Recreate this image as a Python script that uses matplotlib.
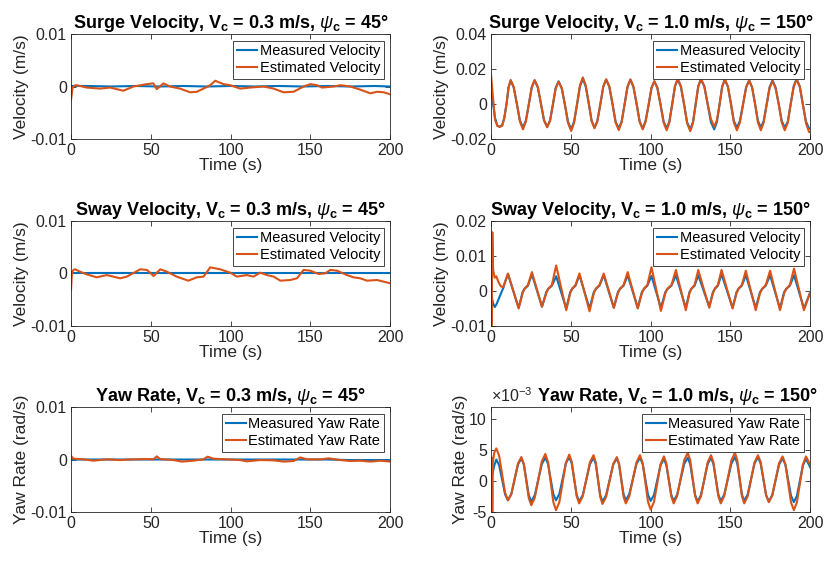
import numpy as np
import matplotlib.pyplot as plt

plt.rcParams['font.family'] = ['Liberation Sans', 'DejaVu Sans']
plt.rcParams['mathtext.fontset'] = 'custom'
plt.rcParams['mathtext.rm'] = 'Liberation Sans'
plt.rcParams['mathtext.it'] = 'Liberation Sans:italic'
plt.rcParams['mathtext.bf'] = 'Liberation Sans:bold'
plt.rcParams['axes.unicode_minus'] = False

BLUE = '#0072BD'
ORANGE = '#D95319'
GREY = '#262626'

# ---------------- left column: Vc = 0.3 m/s, psi = 45 deg ----------------
# surge
t_su_l = [0, 1, 2.5, 3.5, 9.8, 18.2, 24.5, 32.8, 39.1, 47.4, 51.6, 53.7, 57.9, 62.0,
          68.3, 74.6, 78.8, 83.0, 87.2, 90.3, 95.5, 99.7, 106, 112.2, 120.6, 126.9,
          133.1, 139.4, 145.7, 149.9, 154.1, 157.2, 164.5, 168.7, 175, 181.2, 187.5,
          191.7, 195.9, 200]
su_est_l = [-0.0025, -0.0002, 0.0002, 0.00025, -0.0002, -0.0004, -0.0002, -0.0008, 0.0,
            0.00045, 0.0006, -0.0005, 0.0006, 0.0, -0.0004, -0.0011, -0.001, -0.0004,
            0.00025, 0.0011, 0.00045, 0.00025, -0.0004, -0.0002, 0.0, -0.0004, -0.0011,
            -0.001, 0.0, 0.00045, 0.00025, -0.0002, 0.0, 0.00025, 0.0, -0.0006, -0.0013,
            -0.001, -0.0011, -0.0015]
t_meas_l = [0, 10, 25, 40, 55, 70, 85, 100, 115, 130, 145, 160, 175, 190, 200]
su_meas_l = [0.0001, 0.0001, 0.0, 0.0001, 0.0, 0.0001, 0.0, 0.0001, 0.0, 0.0001, 0.0,
             0.0001, 0.0, 0.0001, 0.0]

# sway
t_sw_l = [0, 0.6, 1.5, 2.5, 5.6, 9.8, 16.1, 22.4, 30.8, 34.9, 43.4, 47.6, 51.7, 55.9, 60,
          66.2, 73.5, 78.7, 83, 87.2, 93.4, 99.7, 103.9, 110.1, 114.3, 118.5, 122.7,
          126.9, 131.1, 137.3, 141.5, 145.7, 149.9, 155.1, 159.3, 162.4, 166.6, 172.8,
          177, 181.2, 185.4, 191.7, 195.9, 200]
sw_est_l = [-0.0031, 0.0003, 0.00067, 0.0008, 0.00035, -0.00016, -0.00073, -0.0003,
            -0.00092, -0.0006, 0.0008, 0.00067, -0.00048, 0.0008, 0.00035, -0.0006,
            -0.00137, -0.00073, -0.0006, 0.00117, 0.0008, 0.00016, -0.0006, -0.0003,
            -0.0006, 0.00016, -0.0003, -0.0006, -0.00137, -0.00124, -0.00092, 0.00067,
            0.00054, -0.0001, 0.00003, 0.00067, 0.00054, -0.0003, -0.00073, -0.00092,
            -0.00137, -0.00124, -0.00156, -0.00187]
sw_meas_l = [0.0, 0.0, 0.0, 0.0, 0.0, 0.0, 0.0, 0.0, 0.0, 0.0, 0.0, 0.0, 0.0, 0.0, 0.0]

# yaw
t_ya_l = [0, 1.5, 7.7, 14, 22.4, 30.8, 39.1, 47.4, 51.6, 53.7, 55.8, 64.1, 69.4, 76.7, 83,
          85.5, 89.2, 97.6, 106, 110.1, 118.5, 126.9, 133.1, 139.4, 143.6, 147.8, 156.2,
          161.4, 168.7, 175, 181.2, 187.5, 193.8, 200]
ya_est_l = [0.00067, 0.00016, 0.00003, -0.00022, 0.00003, -0.0001, 0.00003, 0.0001,
            0.00003, 0.0006, 0.0001, -0.0001, -0.0004, -0.00022, 0.00003, 0.00054,
            0.00016, 0.00003, -0.0001, -0.00035, -0.0001, -0.00016, -0.0004, -0.00029,
            0.0004, 0.00003, 0.00003, 0.00022, -0.0001, -0.00029, -0.00022, -0.0004,
            -0.00022, -0.0004]
ya_meas_l = [0.0, 0.0, 0.0, 0.0, 0.0, 0.0, 0.0, 0.0, 0.0, 0.0, 0.0, 0.0, -0.0001, -0.0001,
             -0.0001]

# ---------------- right column: Vc = 1.0 m/s, psi = 150 deg ----------------
t_su_r = [0, 1, 2.5, 4, 5.4, 7,
          8.3, 9.7, 11, 12.3, 14.2, 16.2, 18.1, 20,
          21.8, 23.7, 25.5, 27.3, 29.3, 31.3, 33.2, 35.2,
          37, 38.8, 40.5, 42.3, 44.3, 46.3, 48.2, 50.2,
          52, 53.9, 55.7, 57.5, 59.3, 61.2, 63, 64.8,
          66.6, 68.5, 70.3, 72.1, 74.1, 76.1, 78, 80,
          81.8, 83.7, 85.5, 87.3, 89.2, 91.2, 93.1, 95,
          96.8, 98.7, 100.5, 102.3, 104.2, 106.2, 108.1, 110,
          111.7, 113.5, 115.2, 116.9, 118.9, 120.9, 122.8, 124.8,
          126.5, 128.2, 129.8, 131.5, 133.6, 135.7, 137.7, 139.8,
          141.5, 143.2, 144.8, 146.5, 148.4, 150.3, 152.1, 154,
          155.9, 157.9, 159.8, 161.7, 163.5, 165.4, 167.2, 169,
          170.8, 172.7, 174.5, 176.3, 178.2, 180.2, 182.1, 184,
          185.9, 187.7, 189.6, 191.4,
          193.4, 195.3, 197.3, 199.2, 200]
su_meas_r = [0.007, 0.002, -0.008, -0.0125, -0.013, -0.012,
             -0.008, 0.0, 0.0095, 0.0135, 0.0095, 0.0, -0.0095, -0.0135,
             -0.0095, 0.0, 0.0095, 0.0135, 0.0095, 0.0, -0.0093, -0.013,
             -0.0093, 0.0, 0.0092, 0.013, 0.009, -0.0005, -0.010, -0.0145,
             -0.010, 0.0, 0.010, 0.0145, 0.010, 0.0005, -0.0095, -0.0135,
             -0.0097, 0.0, 0.0099, 0.014, 0.0099, 0.0, -0.010, -0.014,
             -0.010, 0.0, 0.0098, 0.0138, 0.0098, 0.0, -0.010, -0.014,
             -0.0097, -0.0005, 0.0092, 0.013, 0.0092, -0.0005, -0.010, -0.014,
             -0.010, 0.0, 0.010, 0.014, 0.010, 0.0, -0.0103, -0.0145,
             -0.0102, 0.0, 0.010, 0.014, 0.010, 0.0, -0.0103, -0.0145,
             -0.0102, 0.0, 0.010, 0.014, 0.0098, 0.0, -0.0096, -0.0135,
             -0.0096, 0.0, 0.0096, 0.0135, 0.0096, 0.0, -0.0096, -0.0135,
             -0.0096, 0.0, 0.0096, 0.0135, 0.0096, 0.0, -0.0096, -0.0135,
             -0.010, 0.0, 0.0102, 0.0145,
             0.010, 0.0, -0.010, -0.014, -0.014]
su_est_r = [0.0166, 0.006, -0.009, -0.0125, -0.013, -0.0125,
            -0.008, 0.0, 0.0097, 0.0137, 0.0097, 0.0, -0.010, -0.0145,
            -0.010, 0.0, 0.0097, 0.0137, 0.0097, 0.0, -0.0094, -0.0133,
            -0.0094, 0.0, 0.009, 0.0127, 0.009, -0.0005, -0.0108, -0.0154,
            -0.0108, 0.0, 0.0107, 0.0152, 0.0107, 0.0005, -0.0098, -0.0139,
            -0.0098, 0.0, 0.010, 0.0141, 0.010, 0.0, -0.0105, -0.0149,
            -0.0105, 0.0, 0.010, 0.0141, 0.010, 0.0, -0.0102, -0.0145,
            -0.0102, -0.0005, 0.0092, 0.013, 0.0092, -0.0005, -0.0106, -0.015,
            -0.0106, 0.0, 0.0102, 0.0145, 0.0102, 0.0, -0.011, -0.0155,
            -0.011, 0.0, 0.0102, 0.0145, 0.0102, 0.0, -0.0085, -0.013,
            -0.0092, 0.0, 0.0099, 0.014, 0.0099, 0.0, -0.0106, -0.015,
            -0.0106, 0.0, 0.0095, 0.0135, 0.0095, 0.0, -0.0106, -0.015,
            -0.0106, 0.0, 0.0092, 0.013, 0.0092, 0.0, -0.0106, -0.015,
            -0.0106, 0.0, 0.0099, 0.014,
            0.0099, 0.0, -0.011, -0.016, -0.016]

t_sw_r = [0, 0.4, 0.8, 1.3, 2.3, 3.3, 4.6, 6.2, 7.6, 9.1, 10.6,
          17.3, 19.8, 21.0, 23.1, 25.6,
          31.9, 34.6, 35.9, 38.1, 40.8,
          47.1, 49.6, 50.8, 52.9, 55.4,
          61.7, 64.4, 65.7, 67.9, 70.6,
          76.9, 79.5, 80.8, 83.0, 85.6,
          91.9, 94.5, 95.8, 97.9, 100.5,
          106.4, 109.2, 110.6, 113.0, 115.8,
          122.0, 124.3, 125.5, 127.5, 129.8,
          136.7, 139.0, 140.2, 142.1, 144.4,
          151.3, 153.8, 155.0, 157.1, 159.6,
          165.8, 168.5, 169.9, 172.1, 174.8,
          181.0, 183.6, 185.0, 187.2, 189.8,
          196.0, 200]
sw_meas_r = [-0.0012, -0.0018, -0.0025, -0.0035, -0.0046, -0.0039, -0.0025, -0.0007,
             0.0008, 0.003, 0.0048,
             -0.0048, -0.0003, 0.0006, 0.0015, 0.0048,
             -0.0045, -0.0003, 0.0006, 0.0015, 0.0042,
             -0.005, -0.0003, 0.0006, 0.0015, 0.0045,
             -0.005, -0.0003, 0.0006, 0.0015, 0.0045,
             -0.0048, -0.0003, 0.0006, 0.0015, 0.0045,
             -0.0048, -0.0003, 0.0006, 0.0015, 0.0043,
             -0.0048, -0.0003, 0.0006, 0.0015, 0.0045,
             -0.0048, -0.0003, 0.0006, 0.0015, 0.0045,
             -0.0045, -0.0003, 0.0006, 0.0015, 0.0048,
             -0.0048, -0.0003, 0.0006, 0.0015, 0.0045,
             -0.0048, -0.0003, 0.0006, 0.0015, 0.0045,
             -0.005, -0.0003, 0.0006, 0.0015, 0.0045,
             -0.005, -0.0003]
sw_est_r = [-0.002, -0.0098, 0.0168, 0.006, 0.0038, 0.0042, 0.0026, 0.0013, 0.0011,
            0.003, 0.005,
            -0.005, -0.0006, 0.0007, 0.0017, 0.0054,
            -0.0045, -0.0006, 0.0007, 0.0017, 0.0073,
            -0.0055, -0.0006, 0.0007, 0.0017, 0.005,
            -0.0058, -0.0006, 0.0007, 0.0017, 0.005,
            -0.0048, -0.0006, 0.0007, 0.0017, 0.0054,
            -0.005, -0.0006, 0.0007, 0.0017, 0.0068,
            -0.0057, -0.0006, 0.0007, 0.0017, 0.006,
            -0.0055, -0.0006, 0.0007, 0.0017, 0.006,
            -0.0048, -0.0006, 0.0007, 0.0017, 0.006,
            -0.005, -0.0006, 0.0007, 0.0017, 0.0058,
            -0.0055, -0.0006, 0.0007, 0.0017, 0.0058,
            -0.0055, -0.0006, 0.0007, 0.0017, 0.0064,
            -0.0055, -0.0003]

# yaw rate, in units of 1e-3 rad/s
t_ya_r = [0, 0.5, 0.8, 1.1, 2.0, 3.3,
          5.1, 6.95, 8.8, 10.6, 12.7, 14.8, 16.9, 19.0,
          20.55, 22.1, 23.65, 25.2, 27.4, 29.6, 31.8, 34.0,
          35.7, 37.35, 39.0, 40.7, 42.8, 44.85, 46.9, 49.0,
          50.55, 52.1, 53.65, 55.2, 57.45, 59.7, 61.95, 64.2,
          65.6, 67.0, 68.4, 69.8, 72.05, 74.3, 76.55, 78.8,
          80.2, 81.6, 83.0, 84.4, 86.6, 88.85, 91.1, 93.3,
          95.0, 96.65, 98.3, 100.0, 102.1, 104.15, 106.2, 108.3,
          109.8, 111.35, 112.9, 114.4, 116.6, 118.8, 121.0, 123.2,
          124.75, 126.3, 127.85, 129.4, 131.5, 133.6, 135.7, 137.8,
          139.3, 140.85, 142.4, 143.9, 146.1, 148.35, 150.6, 152.8,
          154.25, 155.7, 157.15, 158.6, 160.75, 162.9, 165.05, 167.2,
          168.9, 170.6, 172.3, 174.0, 176.15, 178.3, 180.45, 182.6,
          184.4, 186.15, 187.9, 189.7, 191.6, 193.5, 195.4, 197.3,
          200]
ya_meas_r = [0.0, 0.6, 1.0, 1.4, 2.5, 3.5,
             2.54, 0.2, -2.14, -3.1, -2.11, 0.3, 2.71, 3.7,
             2.68, 0.2, -2.28, -3.3, -2.26, 0.25, 2.76, 3.8,
             2.79, 0.35, -2.09, -3.1, -2.08, 0.4, 2.88, 3.9,
             2.85, 0.3, -2.25, -3.3, -2.26, 0.25, 2.76, 3.8,
             2.76, 0.25, -2.26, -3.3, -2.28, 0.2, 2.68, 3.7,
             2.71, 0.3, -2.11, -3.1, -2.09, 0.35, 2.79, 3.8,
             2.78, 0.3, -2.18, -3.2, -2.21, 0.2, 2.61, 3.6,
             2.61, 0.2, -2.21, -3.2, -2.18, 0.3, 2.78, 3.8,
             2.76, 0.25, -2.26, -3.3, -2.26, 0.25, 2.76, 3.8,
             2.78, 0.3, -2.18, -3.2, -2.16, 0.35, 2.86, 3.9,
             2.86, 0.35, -2.16, -3.2, -2.16, 0.35, 2.86, 3.9,
             2.85, 0.3, -2.25, -3.3, -2.28, 0.2, 2.68, 3.7,
             2.66, 0.15, -2.36, -3.4, -2.38, 0.1, 2.58, 3.6,
             2.2]
ya_est_r = [3.2, 3.8, -5.0, 3.0, 4.6, 5.3,
            4.07, 1.1, -1.87, -3.1, -2.08, 0.4, 2.88, 3.9,
            2.76, 0.0, -2.76, -3.9, -2.69, 0.25, 3.19, 4.4,
            3.07, -0.15, -3.37, -4.7, -3.39, -0.2, 2.99, 4.3,
            3.15, 0.35, -2.45, -3.6, -2.46, 0.3, 3.06, 4.2,
            3.05, 0.25, -2.55, -3.7, -2.59, 0.1, 2.79, 3.9,
            2.8, 0.15, -2.5, -3.6, -2.46, 0.3, 3.06, 4.2,
            2.92, -0.2, -3.32, -4.6, -3.34, -0.3, 2.74, 4.0,
            2.89, 0.2, -2.49, -3.6, -2.4, 0.5, 3.4, 4.6,
            3.4, 0.5, -2.4, -3.6, -2.46, 0.3, 3.06, 4.2,
            3.06, 0.3, -2.46, -3.6, -2.4, 0.5, 3.4, 4.6,
            3.4, 0.5, -2.4, -3.6, -2.46, 0.3, 3.06, 4.2,
            3.09, 0.4, -2.29, -3.4, -2.32, 0.3, 2.92, 4.0,
            2.73, -0.35, -3.43, -4.7, -3.43, -0.35, 2.73, 4.0,
            2.6]

titles = [r'Surge Velocity, V$_{\mathbf{c}}$ = 0.3 m/s, $\psi_{\mathbf{c}}$ = 45°',
          r'Surge Velocity, V$_{\mathbf{c}}$ = 1.0 m/s, $\psi_{\mathbf{c}}$ = 150°',
          r'Sway Velocity, V$_{\mathbf{c}}$ = 0.3 m/s, $\psi_{\mathbf{c}}$ = 45°',
          r'Sway Velocity, V$_{\mathbf{c}}$ = 1.0 m/s, $\psi_{\mathbf{c}}$ = 150°',
          r'Yaw Rate, V$_{\mathbf{c}}$ = 0.3 m/s, $\psi_{\mathbf{c}}$ = 45°',
          r'Yaw Rate, V$_{\mathbf{c}}$ = 1.0 m/s, $\psi_{\mathbf{c}}$ = 150°']

fig = plt.figure(figsize=(8.25, 5.61), dpi=100)
lefts = [0.0861, 0.5952]
bottoms = [0.7522, 0.4189, 0.0873]
W, H = 0.387, 0.1872

panels = [
    (t_meas_l, su_meas_l, t_su_l, su_est_l, 'Velocity (m/s)', 'Velocity'),
    (t_su_r, su_meas_r, t_su_r, su_est_r, 'Velocity (m/s)', 'Velocity'),
    (t_meas_l, sw_meas_l, t_sw_l, sw_est_l, 'Velocity (m/s)', 'Velocity'),
    (t_sw_r, sw_meas_r, t_sw_r, sw_est_r, 'Velocity (m/s)', 'Velocity'),
    (t_meas_l, ya_meas_l, t_ya_l, ya_est_l, 'Yaw Rate (rad/s)', 'Yaw Rate'),
    (t_ya_r, ya_meas_r, t_ya_r, ya_est_r, 'Yaw Rate (rad/s)', 'Yaw Rate'),
]
ylims = [(-0.01, 0.01), (-0.02, 0.04), (-0.01, 0.01), (-0.01, 0.02), (-0.01, 0.01), (-5, 12)]
yticks = [[-0.01, 0, 0.01], [-0.02, 0, 0.02, 0.04], [-0.01, 0, 0.01],
          [-0.01, 0, 0.01, 0.02], [-0.01, 0, 0.01], [-5, 0, 5, 10]]

for i, (tm, ym, te, ye, ylab, name) in enumerate(panels):
    row, col = i // 2, i % 2
    ax = fig.add_axes([lefts[col], bottoms[row], W, H])
    ax.plot(tm, ym, color=BLUE, lw=1.5, solid_joinstyle='round', label='Measured ' + name)
    ax.plot(te, ye, color=ORANGE, lw=1.5, solid_joinstyle='round', label='Estimated ' + name)
    ax.set_xlim(0, 200)
    ax.set_ylim(*ylims[i])
    ax.set_xticks([0, 50, 100, 150, 200])
    ax.set_yticks(yticks[i])
    ax.set_yticklabels(['%g' % v for v in yticks[i]])
    ax.tick_params(direction='in', top=True, right=True, length=3.5, width=0.6,
                   labelsize=11.5, colors=GREY, pad=3)
    for s in ax.spines.values():
        s.set_color(GREY)
        s.set_linewidth(0.6)
    ax.set_xlabel('Time (s)', fontsize=12.5, color=GREY, labelpad=0)
    ax.set_ylabel(ylab, fontsize=12.5, color=GREY, labelpad=1)
    if i == 5:
        ax.set_title(titles[i], fontsize=13, fontweight='bold', x=0.585, pad=4)
        ax.text(0.0, 1.02, r'$\times$10$^{-3}$', transform=ax.transAxes,
                ha='left', va='bottom', fontsize=11.5, color=GREY)
    else:
        ax.set_title(titles[i], fontsize=13, fontweight='bold', pad=4)
    leg = ax.legend(loc='upper right', fontsize=10.5, frameon=True, fancybox=False,
                    edgecolor=GREY, framealpha=1, borderpad=0.25, labelspacing=0.2,
                    handlelength=1.4, handletextpad=0.15, borderaxespad=0.45)
    leg.get_frame().set_linewidth(0.6)

fig.savefig('out.png', dpi=100)
